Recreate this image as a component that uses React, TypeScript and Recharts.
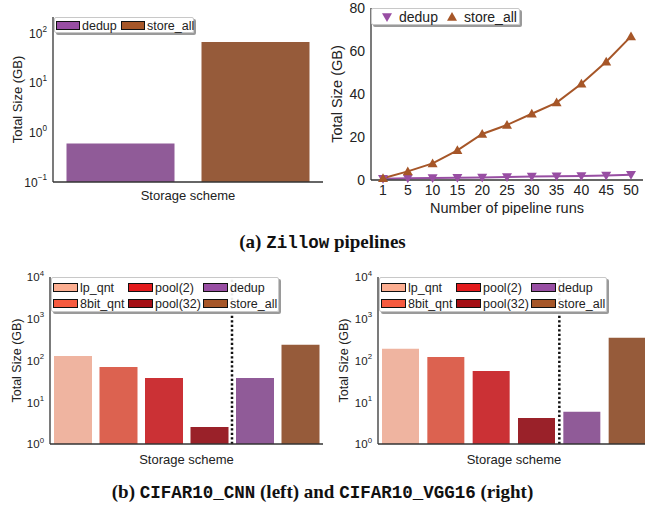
import { BarChart, Bar, Cell, LineChart, Line, XAxis, YAxis, ReferenceLine } from "recharts";

const SANS = "'Liberation Sans', Arial, sans-serif";
const INK = "#222";
const FRAME = "#333";

// (a) Zillow: total size per storage scheme after all runs
const zillowSchemes = ["dedup", "store_all"];
const zillowTotals = [0.6, 67];

// (a) Zillow: total size as the number of pipeline runs grows
const pipelineRuns = ["1", "5", "10", "15", "20", "25", "30", "35", "40", "45", "50"];
const dedupGrowth = [0.6, 0.8, 0.9, 1.0, 1.2, 1.4, 1.6, 1.7, 1.9, 2.1, 2.4];
const storeAllGrowth = [0.8, 4.0, 7.7, 13.8, 21.4, 25.6, 30.8, 36.0, 44.8, 55.0, 66.8];

// (b) CIFAR10: total size per storage scheme
const cifarSchemes = ["lp_qnt", "8bit_qnt", "pool(2)", "pool(32)", "dedup", "store_all"];
const cnnTotals = [129, 70, 38, 2.55, 38, 237];
const vgg16Totals = [190, 122, 56, 4.2, 5.9, 350];

const zillowLogTicks = [0.1, 1, 10, 100];
const cifarLogTicks = [1, 10, 100, 1000, 10000];
const runsTicks = [0, 20, 40, 60, 80];

// legend swatches use the full colour, bars are drawn desaturated
const legendColors: Record<string, string> = {
  lp_qnt: "#fcae91",
  "8bit_qnt": "#f65a3f",
  "pool(2)": "#e31a1c",
  "pool(32)": "#a50f15",
  dedup: "#984ea3",
  store_all: "#a65628",
};
const barColors: Record<string, string> = {
  lp_qnt: "#efb4a0",
  "8bit_qnt": "#dc6250",
  "pool(2)": "#cb3135",
  "pool(32)": "#9a2129",
  dedup: "#905b98",
  store_all: "#965b3a",
};

const zillowBarData = [
  Object.fromEntries([["scheme", "Storage scheme"], ...zillowSchemes.map((s, i) => [s, zillowTotals[i]])]),
];
const runsData = pipelineRuns.map((r, i) => ({ run: r, dedup: dedupGrowth[i], store_all: storeAllGrowth[i] }));
const cnnData = cifarSchemes.map((s, i) => ({ scheme: s, total: cnnTotals[i] }));
const vggData = cifarSchemes.map((s, i) => ({ scheme: s, total: vgg16Totals[i] }));

const PowTick = ({ x, y, payload, fs }: any) => {
  const exp = Math.round(Math.log10(payload.value));
  return (
    <text x={x} y={y} textAnchor="end" fill={INK} fontSize={fs} fontFamily={SANS}>
      <tspan dy="0.38em">10</tspan>
      <tspan dy="-0.75em" fontSize={fs * 0.68}>
        {exp < 0 ? `\u2212${-exp}` : exp}
      </tspan>
    </text>
  );
};

const sideLabel = (text: string, dx: number, fs: number) => (props: any) => {
  const vb = props.viewBox;
  const cx = vb.x + dx;
  const cy = vb.y + vb.height / 2;
  return (
    <text
      x={cx}
      y={cy}
      transform={`rotate(-90, ${cx}, ${cy})`}
      textAnchor="middle"
      dominantBaseline="central"
      fontSize={fs}
      fill={INK}
      fontFamily={SANS}
    >
      {text}
    </text>
  );
};

const TriDot = ({ cx, cy, down, color }: any) => {
  const s = 5;
  const pts = down
    ? `${cx - s},${cy - s * 0.75} ${cx + s},${cy - s * 0.75} ${cx},${cy + s}`
    : `${cx - s},${cy + s * 0.75} ${cx + s},${cy + s * 0.75} ${cx},${cy - s}`;
  return <polygon points={pts} fill={color} />;
};

const legendBox: React.CSSProperties = {
  position: "absolute",
  background: "rgba(255,255,255,0.92)",
  border: "1px solid #c8c8c8",
  borderRadius: 2,
  boxShadow: "2px 2px 0 #9a9a9a",
  boxSizing: "border-box",
  fontFamily: SANS,
  color: INK,
};

const captionStyle: React.CSSProperties = {
  position: "absolute",
  left: 0,
  width: 645,
  textAlign: "center",
  fontFamily: "'Liberation Serif', serif",
  fontWeight: 700,
  fontSize: 19,
  color: "#111",
  whiteSpace: "nowrap",
};
const mono: React.CSSProperties = { fontFamily: "'Liberation Mono', monospace", fontSize: 17.5 };

const Swatch = ({ color, w, h }: { color: string; w: number; h: number }) => (
  <span
    style={{
      display: "inline-block",
      width: w,
      height: h,
      background: color,
      border: "1.5px solid #111",
      boxSizing: "border-box",
      marginRight: 2,
      verticalAlign: "middle",
    }}
  />
);

function CifarLegend({ left }: { left: number }) {
  const cols = [
    ["lp_qnt", "8bit_qnt"],
    ["pool(2)", "pool(32)"],
    ["dedup", "store_all"],
  ];
  return (
    <div style={{ ...legendBox, left, top: 22, width: 228, height: 35, fontSize: 12.5 }}>
      {cols.map((col, ci) =>
        col.map((name, ri) => (
          <div
            key={name}
            style={{ position: "absolute", left: 1 + ci * 75, top: 2 + ri * 16, height: 14, lineHeight: "14px", whiteSpace: "nowrap" }}
          >
            <Swatch color={legendColors[name]} w={25} h={9} />
            <span style={{ verticalAlign: "middle" }}>{name}</span>
          </div>
        ))
      )}
    </div>
  );
}

function CifarPanel({ data, left, width, yw, labelDx, marginRight }: any) {
  return (
    <div style={{ position: "absolute", left, top: 255, width, height: 215 }}>
      <BarChart
        width={width}
        height={215}
        data={data}
        margin={{ top: 22, right: marginRight, left: 0, bottom: 0 }}
        barCategoryGap={4}
      >
        <XAxis
          dataKey="scheme"
          tick={false}
          tickLine={false}
          height={26}
          axisLine={{ stroke: FRAME, strokeWidth: 1.3 }}
          label={{ value: "Storage scheme", position: "insideBottom", offset: 6, fontSize: 13, fill: INK, fontFamily: SANS }}
        />
        <XAxis xAxisId="frame" orientation="top" tick={false} tickLine={false} height={0} axisLine={{ stroke: FRAME, strokeWidth: 1.3 }} />
        <YAxis
          scale="log"
          domain={[1, 10000]}
          ticks={cifarLogTicks}
          allowDataOverflow
          width={yw}
          tickLine={false}
          tickSize={0}
          tickMargin={6}
          axisLine={{ stroke: FRAME, strokeWidth: 1.3 }}
          tick={(p: any) => <PowTick {...p} fs={11.5} />}
          label={sideLabel("Total Size (GB)", labelDx, 12.5)}
        />
        <YAxis yAxisId="frame" orientation="right" width={0} tick={false} tickLine={false} axisLine={{ stroke: FRAME, strokeWidth: 1.3 }} />
        <ReferenceLine x="pool(32)" position="end" stroke="#111" strokeWidth={2.5} strokeDasharray="2.3 2.2" />
        <Bar dataKey="total" isAnimationActive={false}>
          {data.map((d: any) => (
            <Cell key={d.scheme} fill={barColors[d.scheme]} />
          ))}
        </Bar>
      </BarChart>
      <CifarLegend left={yw + 1} />
    </div>
  );
}

export default function App() {
  return (
    <div style={{ position: "absolute", left: 0, top: 0, width: 645, height: 512, overflow: "hidden", background: "#fff", fontFamily: SANS }}>
      {/* (a) left: totals, log scale */}
      <div style={{ position: "absolute", left: 0, top: 0, width: 330, height: 205 }}>
        <BarChart width={330} height={205} data={zillowBarData} margin={{ top: 17, right: 7, left: 3, bottom: 0 }} barCategoryGap="5%" barGap={27}>
          <XAxis
            dataKey="scheme"
            tick={false}
            tickLine={false}
            height={23}
            axisLine={{ stroke: FRAME, strokeWidth: 1.3 }}
            label={{ value: "Storage scheme", position: "insideBottom", offset: 5, fontSize: 13, fill: INK, fontFamily: SANS }}
          />
          <XAxis xAxisId="frame" orientation="top" tick={false} tickLine={false} height={0} axisLine={{ stroke: FRAME, strokeWidth: 1.3 }} />
          <YAxis
            scale="log"
            domain={[0.1, 213]}
            ticks={zillowLogTicks}
            allowDataOverflow
            width={50}
            tickLine={false}
            tickSize={0}
            tickMargin={6}
            axisLine={{ stroke: FRAME, strokeWidth: 1.3 }}
            tick={(p: any) => <PowTick {...p} fs={12} />}
            label={sideLabel("Total Size (GB)", 14, 13)}
          />
          <YAxis yAxisId="frame" orientation="right" width={0} tick={false} tickLine={false} axisLine={{ stroke: FRAME, strokeWidth: 1.3 }} />
          {zillowSchemes.map((s) => (
            <Bar key={s} dataKey={s} fill={barColors[s]} isAnimationActive={false} />
          ))}
        </BarChart>
        <div style={{ ...legendBox, left: 54, top: 17, width: 140, height: 16, fontSize: 12.5 }}>
          {zillowSchemes.map((s, i) => (
            <div key={s} style={{ position: "absolute", left: 1 + i * 65, top: 0, lineHeight: "14px", whiteSpace: "nowrap" }}>
              <Swatch color={legendColors[s]} w={24} h={9} />
              <span style={{ verticalAlign: "middle" }}>{s}</span>
            </div>
          ))}
        </div>
      </div>

      {/* (a) right: growth with pipeline runs */}
      <div style={{ position: "absolute", left: 320, top: 0, width: 325, height: 215 }}>
        <LineChart width={325} height={215} data={runsData} margin={{ top: 8, right: 2, left: 0, bottom: 0 }}>
          <XAxis
            dataKey="run"
            padding={{ left: 12, right: 12 }}
            tickLine={false}
            tickSize={0}
            tickMargin={5}
            height={35}
            interval={0}
            tick={{ fontSize: 14, fill: INK, fontFamily: SANS }}
            axisLine={{ stroke: FRAME, strokeWidth: 1.3 }}
            label={{ value: "Number of pipeline runs", position: "insideBottom", offset: 2, fontSize: 14.5, fill: INK, fontFamily: SANS }}
          />
          <XAxis xAxisId="frame" orientation="top" tick={false} tickLine={false} height={0} axisLine={{ stroke: FRAME, strokeWidth: 1.3 }} />
          <YAxis
            domain={[0, 80]}
            ticks={runsTicks}
            width={51}
            tickLine={false}
            tickSize={0}
            tickMargin={6}
            tick={{ fontSize: 14, fill: INK, fontFamily: SANS }}
            axisLine={{ stroke: FRAME, strokeWidth: 1.3 }}
            label={sideLabel("Total Size (GB)", 17, 14.5)}
          />
          <YAxis yAxisId="frame" orientation="right" width={0} tick={false} tickLine={false} axisLine={{ stroke: FRAME, strokeWidth: 1.3 }} />
          <Line
            dataKey="dedup"
            stroke={legendColors.dedup}
            strokeWidth={2}
            isAnimationActive={false}
            dot={(p: any) => <TriDot key={`d${p.index}`} {...p} down color={legendColors.dedup} />}
          />
          <Line
            dataKey="store_all"
            stroke={legendColors.store_all}
            strokeWidth={2}
            isAnimationActive={false}
            dot={(p: any) => <TriDot key={`s${p.index}`} {...p} color={legendColors.store_all} />}
          />
        </LineChart>
        <div style={{ ...legendBox, left: 51, top: 8, width: 149, height: 17, fontSize: 14 }}>
          {[
            ["dedup", true, 9],
            ["store_all", false, 74],
          ].map(([s, down, x]: any) => (
            <div key={s} style={{ position: "absolute", left: x, top: 0, lineHeight: "15px", whiteSpace: "nowrap" }}>
              <svg width={12} height={12} style={{ verticalAlign: "middle", marginRight: 6 }}>
                <TriDot cx={6} cy={6} down={down} color={legendColors[s]} />
              </svg>
              <span style={{ verticalAlign: "middle" }}>{s}</span>
            </div>
          ))}
        </div>
      </div>

      <div style={{ ...captionStyle, top: 231 }}>
        (a) <span style={mono}>Zillow</span> pipelines
      </div>

      {/* (b) CIFAR10_CNN and CIFAR10_VGG16 */}
      <CifarPanel data={cnnData} left={0} width={330} yw={50} labelDx={17} marginRight={7} />
      <CifarPanel data={vggData} left={320} width={335} yw={58} labelDx={24} marginRight={5} />

      <div style={{ ...captionStyle, top: 481 }}>
        (b) <span style={mono}>CIFAR10_CNN</span> (left) and <span style={mono}>CIFAR10_VGG16</span> (right)
      </div>
    </div>
  );
}
